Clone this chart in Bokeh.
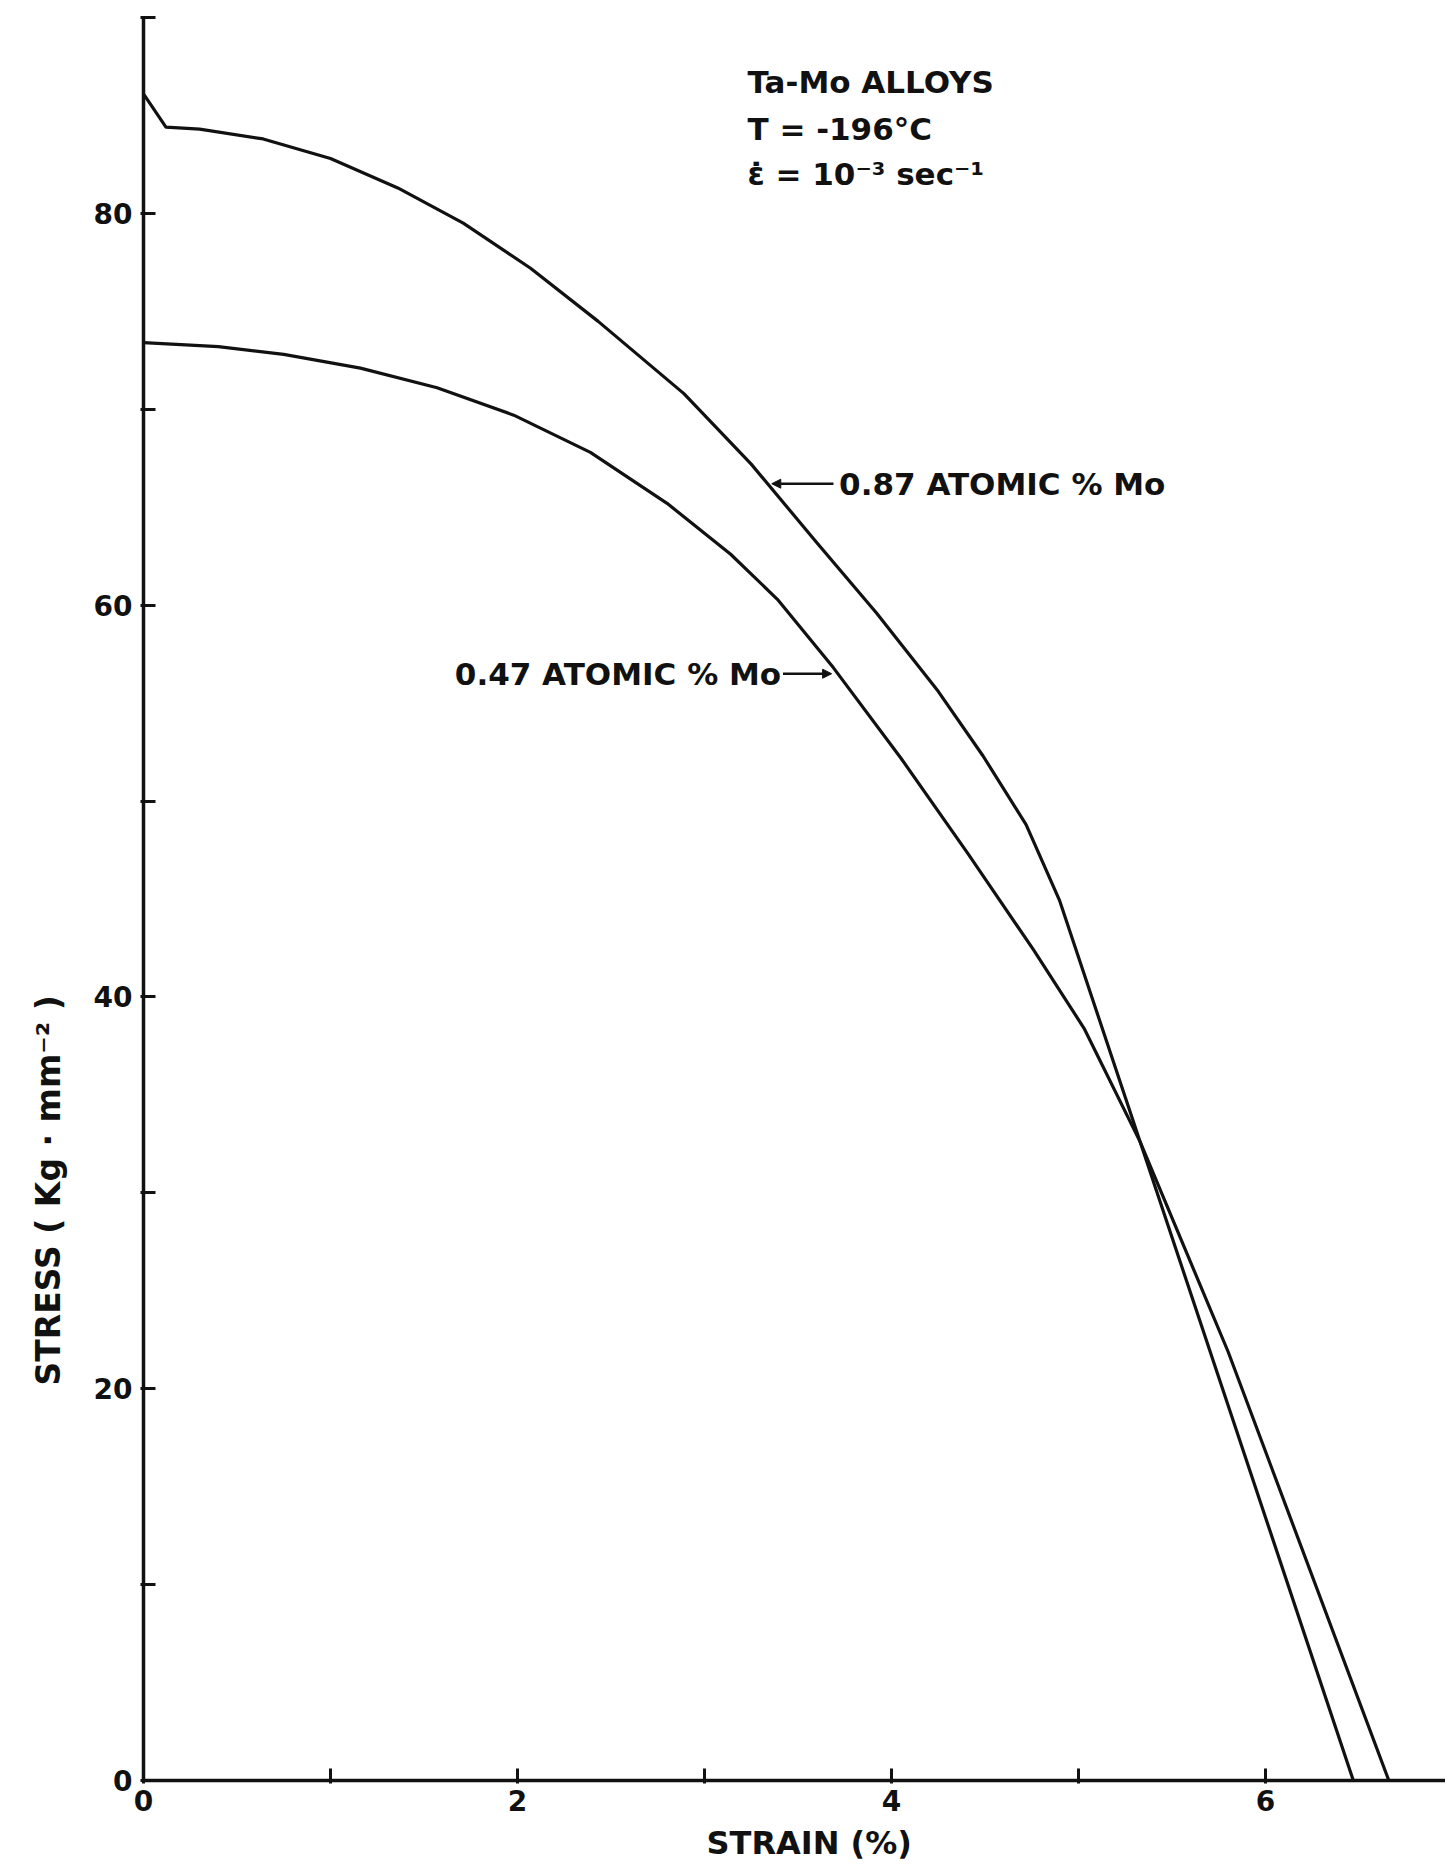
from bokeh.plotting import figure
from bokeh.models import Range1d, FixedTicker, Label, Arrow, NormalHead, Title
from bokeh.embed import file_html
from bokeh.resources import INLINE

# Stress-strain curves of Ta-Mo alloys at -196 C (strain in %, stress in kg/mm^2)
strain_087 = [0.00, 0.12, 0.30, 0.64, 1.00, 1.36, 1.71, 2.07, 2.43, 2.89, 3.25,
              3.60, 3.92, 4.25, 4.49, 4.72, 4.90, 6.47]
stress_087 = [86.1, 84.4, 84.3, 83.8, 82.8, 81.3, 79.5, 77.2, 74.5, 70.8, 67.2,
              63.2, 59.6, 55.6, 52.3, 48.8, 44.9, 0.0]

strain_047 = [0.00, 0.40, 0.75, 1.16, 1.57, 1.98, 2.39, 2.80, 3.14, 3.39, 3.69,
              4.05, 4.41, 4.76, 5.03, 5.33, 5.80, 6.66]
stress_047 = [73.4, 73.2, 72.8, 72.1, 71.1, 69.7, 67.8, 65.2, 62.6, 60.3, 56.8,
              52.2, 47.3, 42.4, 38.4, 32.6, 21.9, 0.0]

series_names = ["0.87 ATOMIC % Mo", "0.47 ATOMIC % Mo"]
condition_lines = ["Ta-Mo ALLOYS", "T = -196°C", "ε̇ = 10⁻³ sec⁻¹"]

x_ticks = [0, 1, 2, 3, 4, 5, 6]
x_tick_labels = {0: "0", 1: "", 2: "2", 3: "", 4: "4", 5: "", 6: "6"}
y_ticks = [0, 10, 20, 30, 40, 50, 60, 70, 80, 90]
y_tick_labels = {0: "0", 10: "", 20: "20", 30: "", 40: "40", 50: "",
                 60: "60", 70: "", 80: "80", 90: ""}

x_title = "STRAIN (%)"
y_title = "STRESS ( Kg · mm⁻² )"

FONT = "DejaVu Sans"
INK = "#111111"

p = figure(width=1445, height=1869,
           x_range=Range1d(0, 6.963), y_range=Range1d(0, 90),
           output_backend="svg", toolbar_location=None,
           min_border_left=143, min_border_right=0,
           min_border_top=17, min_border_bottom=89)
p.outline_line_color = None
p.xgrid.visible = False
p.ygrid.visible = False
p.background_fill_color = "white"
p.border_fill_color = "white"

for ax, ticks, labels in ((p.xaxis[0], x_ticks, x_tick_labels),
                          (p.yaxis[0], y_ticks, y_tick_labels)):
    ax.ticker = FixedTicker(ticks=ticks)
    ax.major_label_overrides = labels
    ax.axis_line_width = 3.5
    ax.axis_line_color = INK
    ax.major_tick_line_width = 3
    ax.major_tick_line_color = INK
    ax.major_tick_in = 12
    ax.major_tick_out = 3
    ax.minor_tick_line_color = None
    ax.major_label_text_font = FONT
    ax.major_label_text_font_style = "bold"
    ax.major_label_text_font_size = "28px"
    ax.major_label_text_color = INK
p.xaxis.major_label_standoff = 6
p.yaxis.major_label_standoff = 8
p.yaxis.major_label_orientation = "horizontal"

p.line(strain_087, stress_087, line_width=3.2, line_color=INK, line_join="round")
p.line(strain_047, stress_047, line_width=3.2, line_color=INK, line_join="round")

# Leader lines pointing at each curve
p.add_layout(Arrow(end=NormalHead(size=9, fill_color=INK, line_color=INK),
                   x_start=3.69, y_start=66.2, x_end=3.36, y_end=66.2,
                   line_width=2.5, line_color=INK))
p.add_layout(Arrow(end=NormalHead(size=9, fill_color=INK, line_color=INK),
                   x_start=3.42, y_start=56.5, x_end=3.68, y_end=56.5,
                   line_width=2.5, line_color=INK))

p.add_layout(Label(x=3.72, y=66.2, text=series_names[0], text_font=FONT,
                   text_font_style="bold", text_font_size="31px",
                   text_color=INK, text_align="left", text_baseline="middle"))
p.add_layout(Label(x=3.41, y=56.5, text=series_names[1], text_font=FONT,
                   text_font_style="bold", text_font_size="31px",
                   text_color=INK, text_align="right", text_baseline="middle"))

for txt, yy in zip(condition_lines, [86.7, 84.3, 82.0]):
    p.add_layout(Label(x=3.23, y=yy, text=txt, text_font=FONT,
                       text_font_style="bold", text_font_size="31px",
                       text_color=INK, text_align="left", text_baseline="middle"))

# Axis titles as side-panel titles so they can sit off-centre
p.add_layout(Title(text=x_title, align="left", offset=563, standoff=16,
                   text_font=FONT, text_font_style="bold",
                   text_font_size="32px", text_color=INK), "below")
p.add_layout(Title(text=y_title, align="left", offset=395, standoff=46,
                   text_font=FONT, text_font_style="bold",
                   text_font_size="33px", text_color=INK), "left")

open("out.html", "w").write(file_html(p, INLINE))
